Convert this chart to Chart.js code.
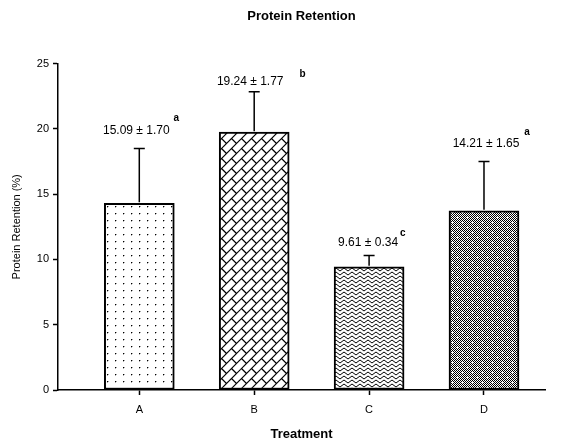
<!DOCTYPE html>
<html><head><meta charset="utf-8">
<script src="https://cdn.jsdelivr.net/npm/chart.js@4.4.1/dist/chart.umd.min.js"></script>
<style>html,body{margin:0;padding:0;background:#fff;}#wrap{width:561px;height:441px;}</style>
</head><body><div id="wrap"><canvas id="c" width="561" height="441"></canvas></div>
<script>
// ---- data ----
const categories = ['A', 'B', 'C', 'D'];
const means = [14.3, 19.75, 9.44, 13.73];
const errors = [4.2, 3.1, 0.86, 3.77];
const meanLabels = ['15.09 ± 1.70', '19.24 ± 1.77', '9.61 ± 0.34', '14.21 ± 1.65'];
const letters = ['a', 'b', 'c', 'a'];
const yTicks = [0, 5, 10, 15, 20, 25];

// ---- label placement (pixels) ----
const labelLift = [18, 10, 13, 18];
const labelShift = [-3, -4, -1, 2];
const letterGap = [4, 16, 2, 5];
const letterRaise = [12, 7, 9, 11];

const FONT = '"Liberation Sans", Arial, sans-serif';
const mainCtx = document.getElementById('c').getContext('2d');

function makePattern(w, h, draw) {
  const c = document.createElement('canvas');
  c.width = w; c.height = h;
  const g = c.getContext('2d');
  g.fillStyle = '#fff'; g.fillRect(0, 0, w, h);
  draw(g, w, h);
  return mainCtx.createPattern(c, 'repeat');
}

const patDots = makePattern(8, 7, g => {
  g.fillStyle = '#000'; g.fillRect(3, 3, 1, 1);
  g.fillStyle = '#aaa'; g.fillRect(4, 3, 1, 1); g.fillRect(3, 4, 1, 1);
});

const patBrick = makePattern(20, 20, g => {
  g.strokeStyle = '#000'; g.lineWidth = 1.2;
  for (let c = -20; c <= 60; c += 10) {
    g.beginPath(); g.moveTo(c + 5, -5); g.lineTo(c - 25, 25); g.stroke();
  }
  const d0 = 3;
  for (let k = -3; k <= 6; k++) {
    const c0 = 10 * k;
    for (let m = -6; m <= 6; m++) {
      const d = d0 + 10 * k + 20 * m;
      g.beginPath();
      g.moveTo((c0 + d) / 2, (c0 - d) / 2);
      g.lineTo((c0 + 10 + d) / 2, (c0 + 10 - d) / 2);
      g.stroke();
    }
  }
});

const patZig = makePattern(8, 8, g => {
  g.strokeStyle = '#000'; g.lineWidth = 1;
  for (let y0 = -4; y0 <= 8; y0 += 4) {
    g.beginPath();
    g.moveTo(-4, y0 + 3); g.lineTo(0, y0); g.lineTo(4, y0 + 3); g.lineTo(8, y0); g.lineTo(12, y0 + 3);
    g.stroke();
  }
});

const patDark = makePattern(10, 10, g => {
  g.fillStyle = '#000';
  for (let x = 0; x < 10; x++) for (let y = 0; y < 10; y++) if ((x + y) % 2 === 0) g.fillRect(x, y, 1, 1);
  g.fillStyle = '#fff';
  [[2, 2], [7, 7]].forEach(([cx, cy]) => { g.fillRect(cx - 1, cy, 3, 1); g.fillRect(cx, cy - 1, 1, 3); });
});

const patterns = [patDots, patBrick, patZig, patDark];

const errorPlugin = {
  id: 'errorBarsAndLabels',
  afterDatasetsDraw(chart) {
    const ctx = chart.ctx, xs = chart.scales.x, ys = chart.scales.y;
    ctx.save();
    ctx.strokeStyle = '#000'; ctx.lineWidth = 1.5; ctx.fillStyle = '#000';
    means.forEach((m, i) => {
      const px = xs.getPixelForValue(i);
      const top = ys.getPixelForValue(m);
      const et = ys.getPixelForValue(m + errors[i]);
      ctx.beginPath();
      ctx.moveTo(px, top - 1); ctx.lineTo(px, et);
      ctx.moveTo(px - 5.5, et); ctx.lineTo(px + 5.5, et);
      ctx.stroke();
      const lx = px + labelShift[i], ly = et - labelLift[i];
      ctx.font = '12px ' + FONT; ctx.textAlign = 'center'; ctx.textBaseline = 'middle';
      ctx.fillText(meanLabels[i], lx, ly);
      const w = ctx.measureText(meanLabels[i]).width;
      ctx.font = 'bold 10px ' + FONT; ctx.textAlign = 'left';
      ctx.fillText(letters[i], lx + w / 2 + letterGap[i], ly - letterRaise[i]);
    });
    ctx.restore();
  }
};

new Chart(mainCtx, {
  type: 'bar',
  data: {
    datasets: [{
      data: means.map((v, i) => ({ x: i, y: v })),
      backgroundColor: patterns,
      borderColor: '#000',
      borderWidth: 2,
      borderSkipped: false,
      barThickness: 70
    }]
  },
  options: {
    responsive: false,
    animation: false,
    devicePixelRatio: 1,
    layout: { padding: { left: 4, right: 16, top: 0, bottom: 0 } },
    plugins: {
      legend: { display: false },
      tooltip: { enabled: false },
      title: {
        display: true, text: 'Protein Retention', color: '#000', fullSize: false,
        font: { family: FONT, size: 13, weight: 'bold' },
        padding: { top: 9, bottom: 39 }
      }
    },
    scales: {
      x: {
        type: 'linear', min: -0.7076, max: 3.531, offset: false,
        afterBuildTicks: s => { s.ticks = categories.map((_, i) => ({ value: i })); },
        afterFit: s => { s.height = 51; },
        ticks: { callback: v => categories[v], color: '#000', font: { family: FONT, size: 11 }, padding: 8, autoSkip: false, maxRotation: 0 },
        grid: { offset: false, drawOnChartArea: false, drawTicks: true, tickLength: 5, tickColor: '#000', tickWidth: 1.5 },
        border: { display: true, color: '#000', width: 1.5 },
        title: { display: true, text: 'Treatment', color: '#000', font: { family: FONT, size: 13, weight: 'bold', lineHeight: 1 }, padding: { top: 0, bottom: 0 } }
      },
      y: {
        min: 0, max: 25,
        afterBuildTicks: s => { s.ticks = yTicks.map(v => ({ value: v })); },
        afterFit: s => { s.width = 54; },
        ticks: { color: '#000', font: { family: FONT, size: 11 }, padding: 4 },
        grid: { drawOnChartArea: false, drawTicks: true, tickLength: 5, tickColor: '#000', tickWidth: 1.5 },
        border: { display: true, color: '#000', width: 1.5 },
        title: { display: true, text: 'Protein Retention (%)', color: '#000', font: { family: FONT, size: 11 }, padding: { top: 6, bottom: 0 } }
      }
    }
  },
  plugins: [errorPlugin]
});
</script></body></html>
